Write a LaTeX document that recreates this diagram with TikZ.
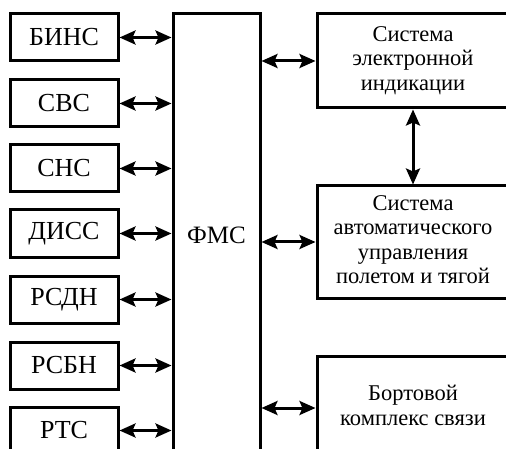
\documentclass[tikz,border=0pt]{standalone}
\usepackage{fontspec}
\setmainfont{Liberation Serif}
\newfontfamily\diagfont{Liberation Serif}
\usetikzlibrary{arrows.meta}
\newcommand{\lines}[1]{\begin{tabular}{@{}c@{}}#1\end{tabular}}
\begin{document}
\begin{tikzpicture}[x=1pt,y=-1pt,
  box/.style={rectangle, inner sep=0pt, outer sep=0pt},
  frame/.style={line width=3pt},
  lbox/.style={box, minimum width=108pt, minimum height=47pt, font=\diagfont\fontsize{26}{29}\selectfont},
  rbox/.style={box, minimum width=192pt, font=\diagfont\fontsize{22.5}{24.5}\selectfont},
  link/.style={line width=3pt, shorten <=1.5pt, shorten >=1.5pt, {Stealth[length=16pt,width=14pt,inset=3pt]}-{Stealth[length=16pt,width=14pt,inset=3pt]}}
]
\useasboundingbox (0,0) rectangle (506,449);
\clip (0,0) rectangle (506,449);
\node[lbox] (b1) at (64,37.5) {БИНС};
\node[lbox] (b2) at (64,103.5) {СВС};
\node[lbox] (b3) at (64,168.5) {СНС};
\node[lbox] (b4) at (64,233.5) {ДИСС};
\node[lbox] (b5) at (64,299.5) {РСДН};
\node[lbox] (b6) at (64,365.5) {РСБН};
\node[lbox] (b7) at (64,430.5) {РТС};
\node[box, minimum width=87pt, minimum height=442pt, font=\diagfont\fontsize{25}{28}\selectfont] (fms) at (216.5,235) {ФМС};
\node[rbox, minimum height=94pt] (r1) at (413,61) {\lines{Система\\электронной\\индикации}};
\node[rbox, minimum height=112pt] (r2) at (413,242) {\lines{Система\\автоматического\\управления\\полетом и тягой}};
\node[rbox, minimum height=104pt] (r3) at (413,408) {\lines{Бортовой\\комплекс связи}};
\foreach \n in {b1,b2,b3,b4,b5,b6,b7,fms,r1,r2,r3} {
  \draw[frame] (\n.south west) rectangle (\n.north east);
}
\foreach \i in {1,...,7} {
  \draw[link] (b\i.east) -- (b\i.east -| fms.west);
}
\foreach \i in {1,2,3} {
  \draw[link] (fms.east |- r\i.west) -- (r\i.west);
}
\draw[link] (r1.south) -- (r2.north);
\end{tikzpicture}
\end{document}
